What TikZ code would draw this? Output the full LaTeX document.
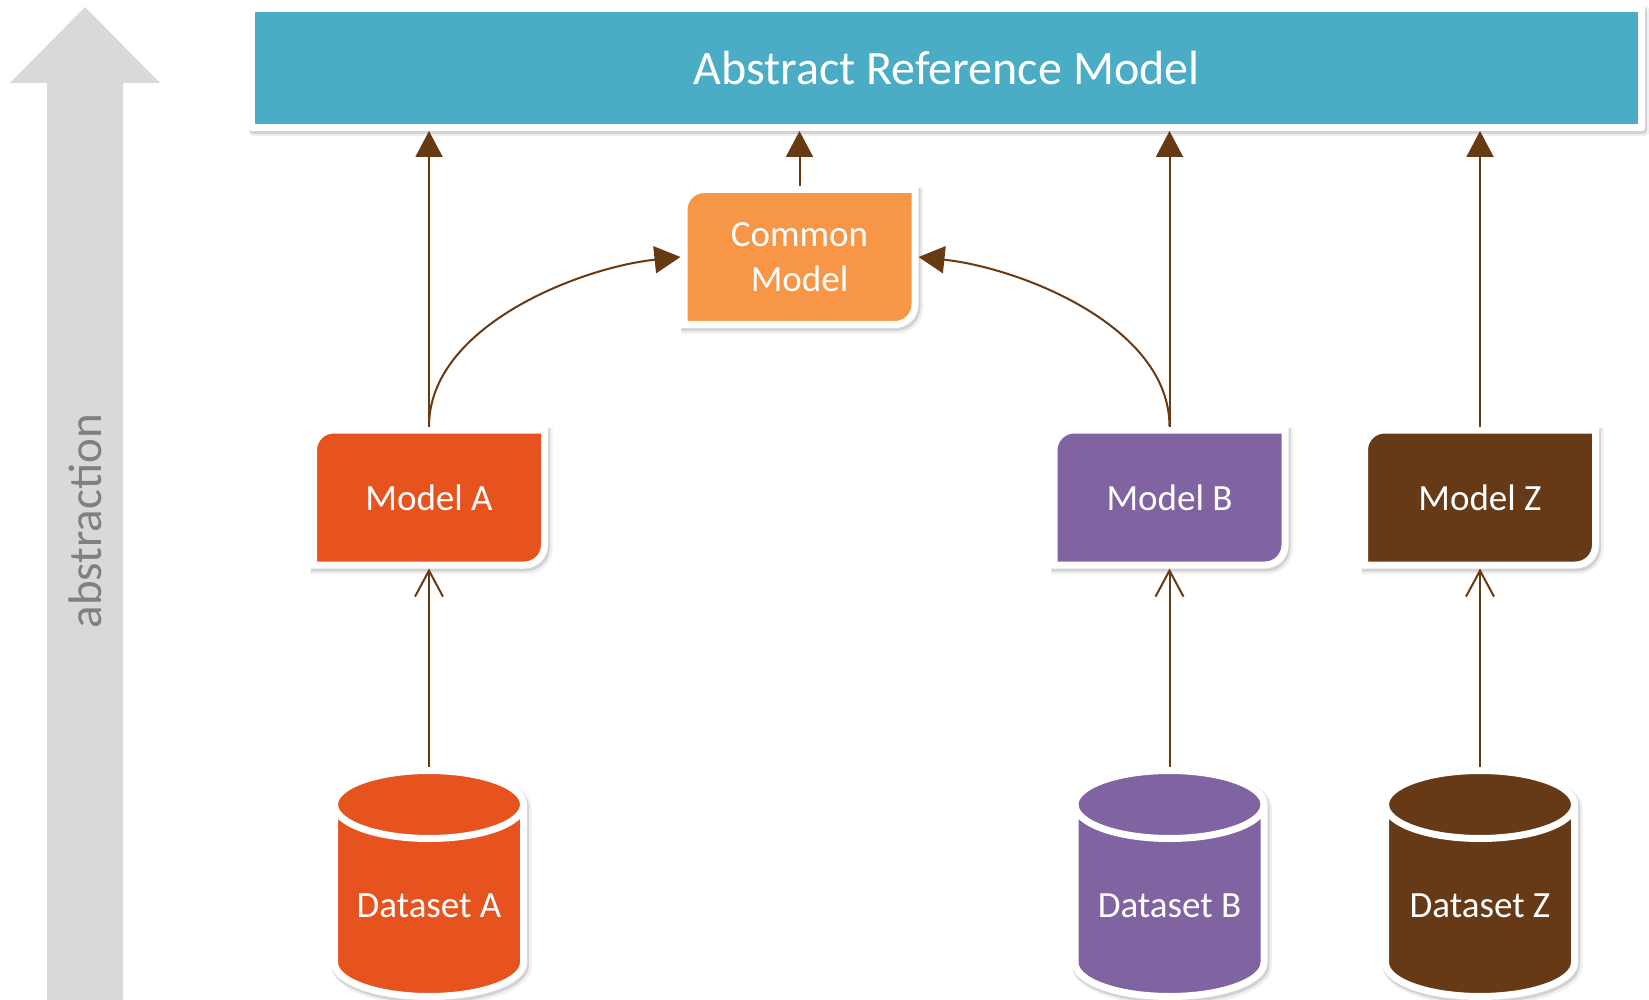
\documentclass[tikz,border=0pt]{standalone}
\usepackage{fontspec}
\setmainfont{Carlito}
\usetikzlibrary{arrows.meta,backgrounds}

\definecolor{refteal}{HTML}{4BACC6}
\definecolor{orangeA}{HTML}{E6531F}
\definecolor{commonorange}{HTML}{F79646}
\definecolor{purpleB}{HTML}{8064A2}
\definecolor{brownZ}{HTML}{663A17}
\definecolor{linkbrown}{HTML}{683A14}
\definecolor{axisgray}{HTML}{D9D9D9}
\definecolor{axistext}{HTML}{808080}

\tikzset{
  softshadow/.style={
    preaction={draw=black,opacity=0.06,line width=11pt,transform canvas={xshift=2.5pt,yshift=-3.5pt}},
    preaction={draw=black,opacity=0.12,line width=8pt,transform canvas={xshift=1.5pt,yshift=-2.5pt}}},
  modelnode/.style={minimum width=238pt,minimum height=142pt,inner sep=0pt,outer sep=0pt,text=white,align=center,font=\fontsize{37}{44.5}\selectfont},
  datanode/.style={minimum width=196pt,inner sep=0pt,outer sep=0pt,text height=150pt,text depth=83pt,text=white,font=\fontsize{37}{44.5}\selectfont},
  refnode/.style={minimum width=1390pt,minimum height=119pt,fill=refteal,draw=white,line width=7pt,text=white,font=\fontsize{48}{56}\selectfont,softshadow},
  link/.style={draw=linkbrown,line width=2pt}
}

\begin{document}
\begin{tikzpicture}[x=1pt,y=-1pt,line join=round,>={Triangle[length=26pt,width=27pt]}]
        \useasboundingbox (0,0) rectangle (1649,1000);

        % abstraction axis
        \fill[axisgray] (85,7) -- (160,83) -- (123,83) -- (123,1000) -- (47,1000) -- (47,83) -- (10,83) -- cycle;
        \node[rotate=90,text=axistext,font=\fontsize{47}{56}\selectfont] (axis) at (85,521) {abstraction};

        \node[refnode] (ref) at (946.5,68) {Abstract Reference Model};

        \node[modelnode] (cm) at (799.5,257) {Common\\Model};
        \foreach \n/\x/\t in {mA/429/A, mB/1169.5/B, mZ/1480/Z}
                \node[modelnode] (\n) at (\x,497.5) {Model \t};
        \foreach \n/\x/\t in {dA/429/A, dB/1169.5/B, dZ/1480/Z}
                \node[datanode] (\n) at (\x,883.5) {Dataset \t};

        \begin{scope}[on background layer]
                \foreach \n/\c in {cm/commonorange, mA/orangeA, mB/purpleB, mZ/brownZ} {
                        \coordinate (nw) at ([xshift=3.5pt,yshift=-3.5pt]\n.north west);
                        \coordinate (ne) at ([xshift=-3.5pt,yshift=-3.5pt]\n.north east);
                        \coordinate (se) at ([xshift=-3.5pt,yshift=3.5pt]\n.south east);
                        \coordinate (sw) at ([xshift=3.5pt,yshift=3.5pt]\n.south west);
                        \path[fill=\c,draw=white,line width=7pt,softshadow]
                                (sw) -- ([yshift=-20pt]nw) .. controls ([yshift=-9pt]nw) and ([xshift=9pt]nw) .. ([xshift=20pt]nw)
                                -- (ne) -- ([yshift=20pt]se) .. controls ([yshift=9pt]se) and ([xshift=-9pt]se) .. ([xshift=-20pt]se)
                                -- cycle;
                }
                \foreach \n/\c in {dA/orangeA, dB/purpleB, dZ/brownZ} {
                        \coordinate (tl) at ([xshift=3.5pt,yshift=-37.5pt]\n.north west);
                        \coordinate (tr) at ([xshift=-3.5pt,yshift=-37.5pt]\n.north east);
                        \coordinate (bl) at ([xshift=3.5pt,yshift=37.5pt]\n.south west);
                        \path[fill=\c,draw=white,line width=7pt,softshadow]
                                (tl) -- (bl) arc[start angle=180,end angle=360,x radius=94.5pt,y radius=34pt]
                                -- (tr) arc[start angle=0,end angle=180,x radius=94.5pt,y radius=34pt] -- cycle;
                        \draw[white,line width=7pt] (tl) arc[start angle=180,end angle=360,x radius=94.5pt,y radius=34pt];
                }
        \end{scope}

        \foreach \n in {mA,mB,mZ,cm}
                \draw[link,->] (\n.north) -- (\n.north |- ref.south);
        \foreach \d/\m in {dA/mA, dB/mB, dZ/mZ}
                \draw[link,-{Straight Barb[length=26pt,width=28pt]}] (\d.north) -- (\m.south);
        \draw[link,->] (mA.north) to[out=90,in=186,looseness=0.85] (cm.west);
        \draw[link,->] (mB.north) to[out=90,in=-6,looseness=0.85] (cm.east);
\end{tikzpicture}
\end{document}
